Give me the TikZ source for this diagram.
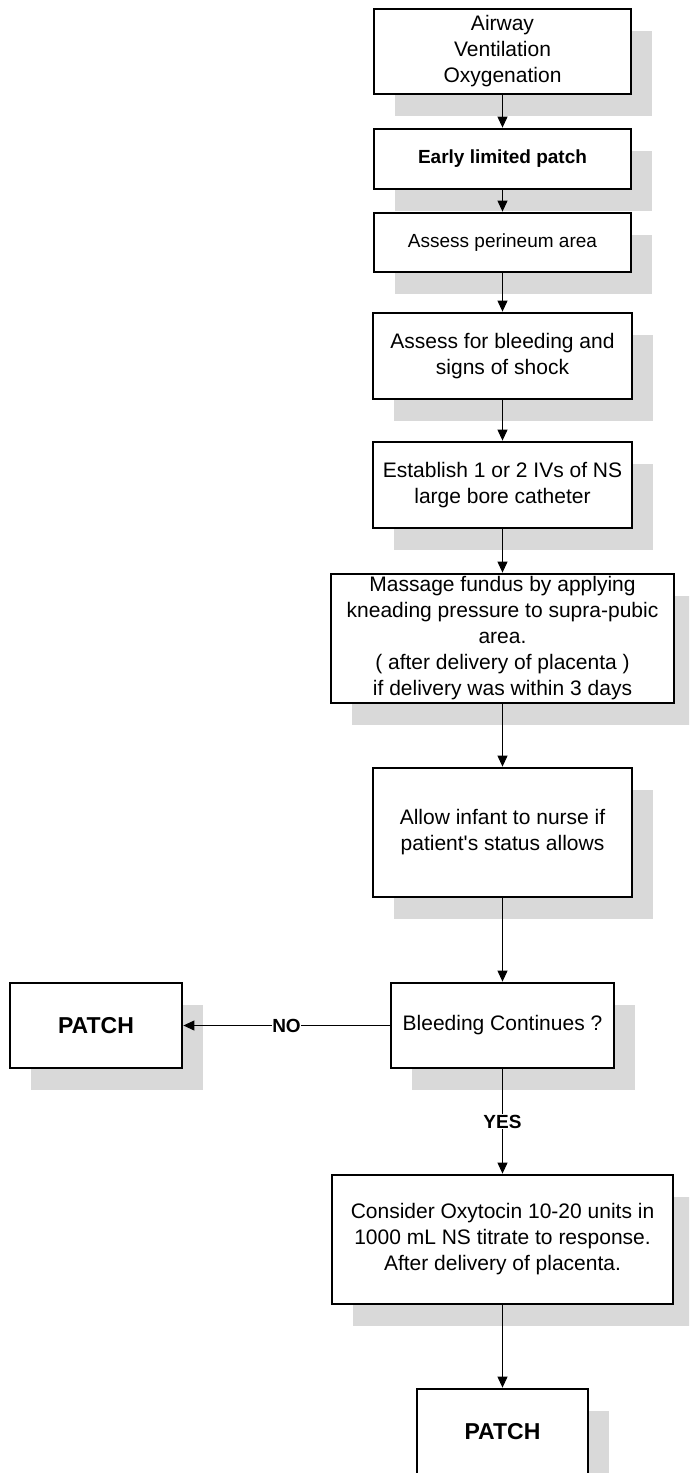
\documentclass[tikz,border=0pt]{standalone}
\usepackage{fontspec}
\setmainfont{Liberation Sans}[Ligatures=ResetAll]
% plain font instance with no character mapping, for a straight apostrophe
\font\aposfont="Liberation Sans" at 21pt
\usetikzlibrary{arrows.meta,shadows}
\definecolor{shadowgray}{RGB}{217,217,217}
\begin{document}
\begin{tikzpicture}[x=1pt,y=-1pt,
  box/.style={draw, line width=2.8pt, fill=white, align=center, inner sep=0pt,
    font=\fontsize{21}{26}\selectfont,
    drop shadow={shadow xshift=21pt, shadow yshift=-22pt, fill=shadowgray, opacity=1}},
  smalltext/.style={font=\fontsize{19}{23}\selectfont},
  boldtext/.style={font=\fontsize{19}{23}\selectfont\bfseries},
  patchtext/.style={font=\fontsize{23}{27}\selectfont\bfseries},
  arr/.style={line width=1pt, -{Triangle[width=10pt,length=11pt]}},
  lbl/.style={fill=white, inner sep=0.5pt, font=\fontsize{19}{22}\selectfont\bfseries}]
\useasboundingbox (0,0) rectangle (689,1473);
\clip (0,0) rectangle (689,1473);

% main column of steps
\node[box, minimum width=257pt, minimum height=85pt] (air) at (502.5,51.5)
  {Airway\\Ventilation\\Oxygenation};
\node[box, boldtext, minimum width=257pt, minimum height=60pt] (early) at (502.5,159)
  {Early limited patch};
\node[box, smalltext, minimum width=257pt, minimum height=59pt] (peri) at (502.5,242.5)
  {Assess perineum area};
\node[box, minimum width=259pt, minimum height=86pt] (shock) at (502.5,356)
  {Assess for bleeding and\\signs of shock};
\node[box, minimum width=259pt, minimum height=86pt] (iv) at (502.5,485)
  {Establish 1 or 2 IVs of NS\\large bore catheter};
\node[box, minimum width=343pt, minimum height=129pt] (fundus) at (502.5,638.5)
  {Massage fundus by applying\\kneading pressure to supra-pubic\\area.\\( after delivery of placenta )\\if delivery was within 3 days};
\node[box, minimum width=259pt, minimum height=129pt] (infant) at (502.5,832.5)
  {Allow infant to nurse if\\patient{\aposfont'}s status allows};
\node[box, minimum width=223pt, minimum height=85pt] (bleed) at (502.5,1025.5)
  {Bleeding Continues ?};
\node[box, patchtext, minimum width=172pt, minimum height=85pt] (patchL) at (96,1025.5)
  {PATCH};
\node[box, minimum width=341pt, minimum height=129pt] (oxy) at (502.5,1239.5)
  {Consider Oxytocin 10-20 units in\\1000 mL NS titrate to response.\\After delivery of placenta.};
\node[box, patchtext, minimum width=171pt, minimum height=85pt] (patchB) at (502.5,1431.5)
  {PATCH};

% connectors
\draw[arr] (air) -- (early);
\draw[arr] (early) -- (peri);
\draw[arr] (peri) -- (shock);
\draw[arr] (shock) -- (iv);
\draw[arr] (iv) -- (fundus);
\draw[arr] (fundus) -- (infant);
\draw[arr] (infant) -- (bleed);
\draw[arr] (bleed.west) -- node[lbl] {NO} (patchL.east);
\draw[arr] (bleed.south) -- node[lbl] {YES} (oxy.north);
\draw[arr] (oxy) -- (patchB);
\end{tikzpicture}
\end{document}
